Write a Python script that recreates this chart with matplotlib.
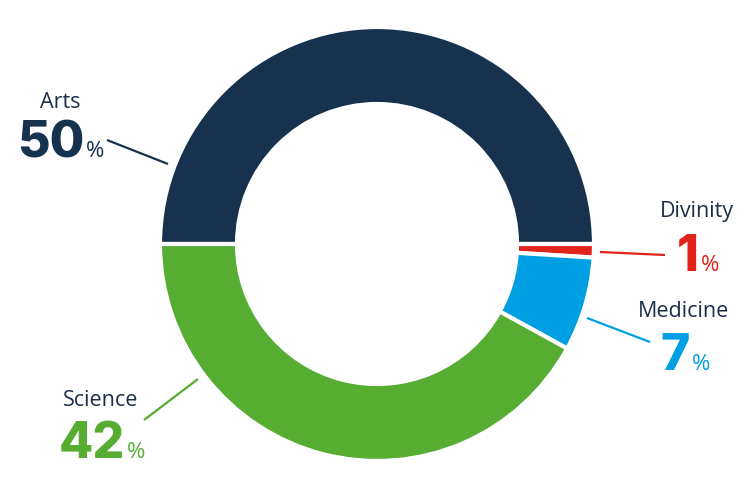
import matplotlib.pyplot as plt

# data
faculties = ["Arts", "Divinity", "Medicine", "Science"]
shares = [50, 1, 7, 42]
colors = ["#17324f", "#e2231a", "#009fe3", "#56ad32"]

# label layout in pixels (x of label centre, baseline y, leader line start/end)
label_x = [60, 697, 684, 101]
label_y = [108, 217, 317, 406]
num_right = [84, 699, 690, 125]
num_base = [157, 271, 370, 458]
lead = [((107, 140), (168, 164)),
        ((600, 252), (665, 255)),
        ((587, 318), (650, 342)),
        ((144, 420), (198, 379))]

H = 500
cx, cy, r_out, r_in = 377, 244, 217, 140

plt.rcParams['font.family'] = ['Open Sans', 'DejaVu Sans']
fig = plt.figure(figsize=(7.5, 5), dpi=100)
ax = fig.add_axes([0, 0, 1, 1])
ax.set_xlim(0, 750)
ax.set_ylim(0, H)
ax.set_aspect('equal')
ax.axis('off')

ax.pie(shares, colors=colors, startangle=180, counterclock=False,
       center=(cx, H - cy), radius=r_out,
       wedgeprops=dict(width=r_out - r_in, edgecolor='white', linewidth=3))
ax.set_xlim(0, 750)
ax.set_ylim(0, H)

txt_col = "#1c2d4a"
for i, name in enumerate(faculties):
    ax.text(label_x[i], H - label_y[i], name, ha='center', va='baseline',
            fontsize=15.5, color=txt_col)
    ax.text(num_right[i], H - num_base[i], str(shares[i]), ha='right', va='baseline',
            fontsize=36, fontweight='heavy', family=['Inter', 'DejaVu Sans'],
            color=colors[i])
    ax.text(num_right[i] + 2, H - num_base[i], "%", ha='left', va='baseline',
            fontsize=16, color=colors[i])
    (x0, y0), (x1, y1) = lead[i]
    ax.plot([x0, x1], [H - y0, H - y1], color=colors[i], linewidth=1.6,
            solid_capstyle='butt')

plt.savefig('out.png', dpi=100)
